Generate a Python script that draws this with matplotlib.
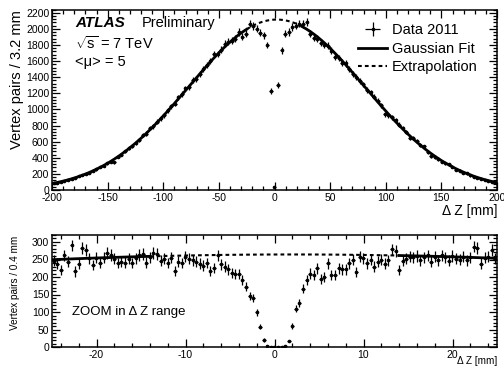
import numpy as np
import matplotlib
matplotlib.use("Agg")
import matplotlib.pyplot as plt
from matplotlib.lines import Line2D
from matplotlib.ticker import MultipleLocator

plt.rcParams['font.family'] = ['Liberation Sans', 'DejaVu Sans']
plt.rcParams['mathtext.fontset'] = 'custom'
plt.rcParams['mathtext.rm'] = 'Liberation Sans'
plt.rcParams['mathtext.it'] = 'Liberation Sans:italic'
plt.rcParams['axes.unicode_minus'] = False

# ---------------- data: top panel (3.2 mm bins, -200..200) ----------------
top_bin_width = 3.2
top_centers = np.arange(-198.4, 198.5, 3.2)
top_counts = [
    88, 92, 100, 115, 128, 135, 150, 170, 182, 195,
    215, 240, 255, 285, 300, 330, 352, 345, 415, 440,
    480, 525, 540, 585, 615, 680, 700, 770, 790, 850,
    890, 930, 990, 1040, 1070, 1150, 1190, 1260, 1280, 1360,
    1380, 1440, 1500, 1550, 1600, 1690, 1690, 1740, 1817, 1838,
    1850, 1880, 1961, 1900, 1941, 2065, 2035, 2003, 1950, 1920,
    1800, 1230, 40, 1300, 1735, 1941, 1961, 2023, 2037, 2065,
    2060, 2085, 1940, 1890, 1880, 1830, 1800, 1790, 1730, 1650,
    1640, 1580, 1570, 1500, 1440, 1400, 1350, 1310, 1240, 1210,
    1160, 1110, 1050, 940, 930, 900, 870, 810, 770, 720,
    640, 640, 610, 560, 540, 470, 420, 410, 385, 350,
    330, 320, 290, 250, 240, 215, 205, 180, 165, 150,
    140, 128, 115, 105, 95,
]

# ---------------- data: bottom panel (0.4 mm bins, -25..25) ----------------
bot_bin_width = 0.4
bot_centers = np.arange(-24.8, 24.81, 0.4)
bot_counts = [
    246, 238, 220, 262, 244, 290, 216, 237, 282, 277,
    253, 234, 255, 241, 255, 269, 263, 252, 240, 244,
    241, 252, 240, 254, 263, 266, 241, 256, 269, 266,
    246, 252, 240, 255, 218, 244, 240, 258, 252, 248,
    244, 238, 232, 240, 218, 226, 262, 236, 230, 222,
    212, 208, 208, 192, 172, 146, 140, 100, 58, 20,
    4, 1, 0, 0, 1, 3, 17, 60, 110, 125,
    166, 191, 210, 205, 225, 194, 200, 239, 205, 205,
    225, 222, 222, 239, 249, 215, 258, 253, 239, 249,
    230, 244, 250, 238, 248, 279, 275, 220, 247, 252,
    258, 256, 260, 248, 256, 262, 244, 258, 248, 262,
    256, 246, 260, 252, 250, 258, 248, 256, 287, 283,
    238, 255, 258, 277, 252,
]

# Gaussian fit parameters
fit_amp_top = 2115.0
fit_mean = 2.0
fit_sigma = 79.0
fit_amp_bot = fit_amp_top * bot_bin_width / top_bin_width
top_excl = 25.0
bot_excl = 14.0


def gauss(x, a):
    return a * np.exp(-(x - fit_mean) ** 2 / (2 * fit_sigma ** 2))


W, H = 504, 370
fig = plt.figure(figsize=(W / 100, H / 100), dpi=100)


def fx(px):
    return px / W


def fy(py):
    return 1 - py / H


ax1 = fig.add_axes([fx(52), fy(190), fx(497) - fx(52), fy(9.5) - fy(190)])
ax2 = fig.add_axes([fx(52), fy(347), fx(497) - fx(52), fy(235) - fy(347)])

for ax in (ax1, ax2):
    ax.tick_params(which='both', direction='in', top=True, right=True,
                   labelsize=7.5, width=0.9, pad=2)
    ax.tick_params(which='major', length=6)
    ax.tick_params(which='minor', length=3)
    for s in ax.spines.values():
        s.set_linewidth(1.1)

# ---- top panel ----
tc = np.array(top_counts, dtype=float)
eb = ax1.errorbar(top_centers, tc, yerr=np.sqrt(tc), xerr=top_bin_width / 2,
                  fmt='o', ms=1.6, color='black', ecolor='black', elinewidth=0.9,
                  capsize=0)
xl = np.linspace(-200, -top_excl, 300)
xr = np.linspace(top_excl, 200, 300)
xm = np.linspace(-top_excl, top_excl, 100)
ax1.plot(xl, gauss(xl, fit_amp_top), color='black', lw=2.0)
ax1.plot(xr, gauss(xr, fit_amp_top), color='black', lw=2.0)
ax1.plot(xm, gauss(xm, fit_amp_top), color='black', lw=1.5, ls=(0, (1.8, 1.5)))
ax1.set_xlim(-200, 200)
ax1.set_ylim(0, 2240)
ax1.xaxis.set_major_locator(MultipleLocator(50))
ax1.xaxis.set_minor_locator(MultipleLocator(10))
ax1.yaxis.set_major_locator(MultipleLocator(200))
ax1.yaxis.set_minor_locator(MultipleLocator(40))

# ---- bottom panel ----
bc = np.array(bot_counts, dtype=float)
ax2.errorbar(bot_centers, bc, yerr=np.sqrt(bc), xerr=bot_bin_width / 2,
             fmt='o', ms=1.6, color='black', ecolor='black', elinewidth=0.9,
             capsize=0)
bl = np.linspace(-25, -bot_excl, 100)
br = np.linspace(bot_excl, 25, 100)
bm = np.linspace(-bot_excl, bot_excl, 100)
ax2.plot(bl, gauss(bl, fit_amp_bot), color='black', lw=2.0)
ax2.plot(br, gauss(br, fit_amp_bot), color='black', lw=2.0)
ax2.plot(bm, gauss(bm, fit_amp_bot), color='black', lw=1.5, ls=(0, (1.8, 1.5)))
ax2.set_xlim(-25, 25)
ax2.set_ylim(0, 320)
ax2.xaxis.set_major_locator(MultipleLocator(10))
ax2.xaxis.set_minor_locator(MultipleLocator(2))
ax2.yaxis.set_major_locator(MultipleLocator(50))
ax2.yaxis.set_minor_locator(MultipleLocator(10))

# ---- labels ----
fig.text(fx(17), fy(10), 'Vertex pairs / 3.2 mm', rotation=90, ha='center', va='top',
         fontsize=10.5)
fig.text(fx(15), fy(236), 'Vertex pairs / 0.4 mm', rotation=90, ha='center', va='top',
         fontsize=7.2)
fig.text(fx(497), fy(211), 'Δ Z [mm]', ha='right', va='center', fontsize=10)
fig.text(fx(497), fy(361), 'Δ Z [mm]', ha='right', va='center', fontsize=7.2)

fig.text(fx(75), fy(23), 'ATLAS', fontsize=11, fontweight='bold', fontstyle='italic',
         ha='left', va='center')
fig.text(fx(142), fy(23), 'Preliminary', fontsize=10.5, ha='left', va='center')
fig.text(fx(75), fy(43), r'$\sqrt{\rm s}$ = 7 TeV', fontsize=10.5, ha='left', va='center')
fig.text(fx(75), fy(62), '<μ> = 5', fontsize=10.5, ha='left', va='center')

fig.text(fx(72), fy(312), 'ZOOM in Δ Z range', fontsize=9.5, ha='left', va='center')

handles = [eb,
           Line2D([], [], color='black', lw=2.0),
           Line2D([], [], color='black', lw=1.5, ls=(0, (1.8, 1.5)))]
labels = ['Data 2011', 'Gaussian Fit', 'Extrapolation']
fig.legend(handles, labels, loc='upper left', bbox_to_anchor=(fx(358), fy(23)),
           frameon=False, fontsize=10.5, handlelength=2.0, handletextpad=0.3,
           labelspacing=0.32, borderpad=0, borderaxespad=0)

fig.savefig('out.png', dpi=100)
